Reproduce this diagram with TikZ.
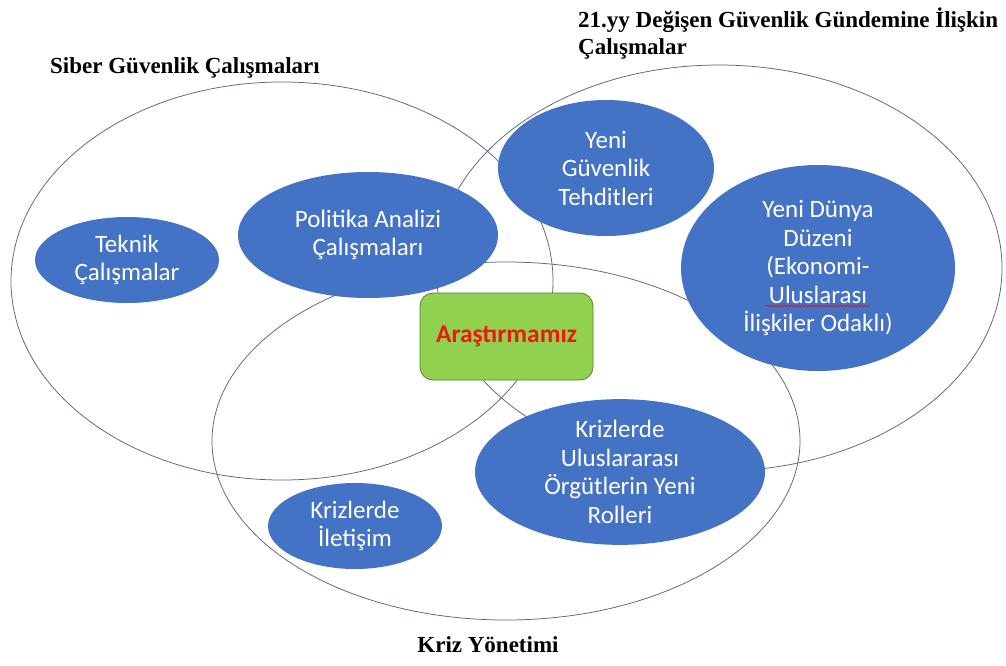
\documentclass[tikz,border=0pt]{standalone}
\usepackage{fontspec}
\setmainfont{Carlito}
\newfontfamily\titlefont{Liberation Serif}
\usetikzlibrary{shapes.geometric,decorations.pathmorphing}

\definecolor{ringcol}{RGB}{88,102,124}
\definecolor{topicblue}{RGB}{68,114,196}
\definecolor{coregreen}{RGB}{146,208,80}
\definecolor{coreedge}{RGB}{84,130,53}
\definecolor{corered}{RGB}{240,24,14}

\begin{document}
\begin{tikzpicture}[x=1pt,y=-1pt,
  ring/.style={draw=ringcol, line width=0.75pt},
  topic/.style={ellipse, fill=topicblue, text=white, inner sep=0pt,
    align=center, font=\fontsize{25}{28.5}\selectfont},
  heading/.style={font=\titlefont\bfseries\fontsize{23}{27}\selectfont,
    inner sep=0pt, align=left},
  core/.style={rectangle, rounded corners=13pt, fill=coregreen,
    draw=coreedge, line width=0.8pt, minimum width=173pt,
    minimum height=87pt, text=corered,
    font=\bfseries\fontsize{25.5}{29}\selectfont}
]
% canvas
\fill[white] (0,0) rectangle (1006,665);
\useasboundingbox (0,0) rectangle (1006,665);

% the three study areas
\draw[ring] (282,281) ellipse [x radius=271pt, y radius=199pt];
\draw[ring] (719,268) ellipse [x radius=283pt, y radius=203pt];
\draw[ring] (506,441) ellipse [x radius=294pt, y radius=179pt];

% topics
\node[topic, minimum width=184pt, minimum height=86pt] (teknik) at (127,260)
  {Teknik\\Çalışmalar};
\node[topic, minimum width=260pt, minimum height=126pt] (politika) at (368,235)
  {Politika Analizi\\Çalışmaları};
\node[topic, minimum width=216pt, minimum height=136pt] (yenig) at (606,168)
  {Yeni\\Güvenlik\\Tehditleri};
\node[topic, minimum width=274pt, minimum height=206pt] (yenid) at (818,268)
  {Yeni Dünya\\Düzeni\\(Ekonomi-\\Uluslarası\\İlişkiler Odaklı)};
\node[topic, minimum width=290pt, minimum height=130pt] (orgut) at (620,472)
  {Krizlerde\\Uluslararası\\Örgütlerin Yeni\\Rolleri};
\node[topic, minimum width=174pt, minimum height=86pt] (iletisim) at (355,526)
  {Krizlerde\\İletişim};

% spell-check mark under "Uluslarası"
\draw[red, line width=0.6pt, decorate,
  decoration={snake, amplitude=0.8pt, segment length=3.5pt}]
  ([xshift=-52pt,yshift=-38pt]yenid.center) -- ([xshift=52pt,yshift=-38pt]yenid.center);

% our study
\node[core] (arastirma) at (506.5,336.5) {Araştırmamız};

% area headings
\node[heading, anchor=west] (siber) at (50,68) {Siber Güvenlik Çalışmaları};
\node[heading, anchor=west] (gundem) at (578,34)
  {21.yy Değişen Güvenlik Gündemine İlişkin\\Çalışmalar};
\node[heading] (kriz) at (488,645) {Kriz Yönetimi};
\end{tikzpicture}
\end{document}
